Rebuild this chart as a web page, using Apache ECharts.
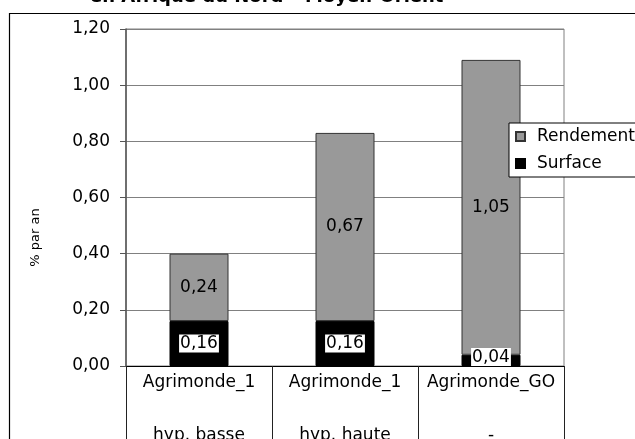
<!DOCTYPE html>
<html>
<head>
<meta charset="utf-8">
<script src="https://cdn.jsdelivr.net/npm/echarts@6/dist/echarts.min.js"></script>
<style>
  html, body { margin: 0; padding: 0; background: #fff; }
  #chart { width: 635px; height: 439px; }
</style>
</head>
<body>
<div id="chart"></div>
<script>
// Scenario labels (two levels) and the stacked contributions, in % per year
const scenarioNames = ['Agrimonde_1', 'Agrimonde_1', 'Agrimonde_GO'];
const scenarioVariants = ['hyp. basse', 'hyp. haute', '-'];
const surface = [0.16, 0.16, 0.04];
const rendement = [0.24, 0.67, 1.05];
const yTicks = [0, 0.2, 0.4, 0.6, 0.8, 1.0, 1.2];

const FONT = 'DejaVu Sans';
const fmt = v => v.toFixed(2).replace('.', ',');

const categories = scenarioNames.map((n, i) => n + '\n' + scenarioVariants[i]);

const chart = echarts.init(document.getElementById('chart'));

chart.setOption({
  animation: false,
  backgroundColor: '#ffffff',
  textStyle: { fontFamily: FONT },
  title: {
    text: 'en Afrique du Nord – Moyen-Orient',
    left: 90,
    top: -12,
    padding: 0,
    textStyle: { fontFamily: FONT, fontSize: 18, fontWeight: 'bold', color: '#000' }
  },
  graphic: [{
    type: 'rect',
    shape: { x: 9.5, y: 13.5, width: 700, height: 500 },
    style: { fill: 'none', stroke: '#000', lineWidth: 1.2 },
    silent: true,
    z: -10
  }],
  legend: {
    data: ['Rendement', 'Surface'],
    orient: 'vertical',
    left: 509,
    top: 123,
    padding: [5, 8, 5, 6],
    itemWidth: 9,
    itemHeight: 9,
    itemGap: 10,
    icon: 'rect',
    backgroundColor: '#fff',
    borderColor: '#000',
    borderWidth: 1,
    textStyle: { fontFamily: FONT, fontSize: 17, color: '#000', padding: [0, 0, 0, 7] }
  },
  grid: {
    left: 126, right: 71, top: 29, bottom: 73,
    outerBoundsMode: 'none',
    containLabel: false,
    show: true, borderColor: '#808080', borderWidth: 1, backgroundColor: 'transparent'
  },
  xAxis: {
    type: 'category',
    data: categories,
    boundaryGap: true,
    axisLine: { lineStyle: { color: '#000', width: 1 } },
    axisTick: { show: true, length: 80, lineStyle: { color: '#222' } },
    axisLabel: {
      interval: 0,
      margin: 7,
      formatter: (v) => {
        const [a, b] = v.split('\n');
        return '{a|' + a + '}\n{b|' + b + '}';
      },
      rich: {
        a: { fontFamily: FONT, fontSize: 17, color: '#000', lineHeight: 20 },
        b: { fontFamily: FONT, fontSize: 17, color: '#000', lineHeight: 86 }
      }
    }
  },
  yAxis: {
    type: 'value',
    min: yTicks[0],
    max: yTicks[yTicks.length - 1],
    interval: 0.2,
    name: '% par an',
    nameLocation: 'middle',
    nameGap: 84,
    nameTextStyle: { fontFamily: FONT, fontSize: 13, color: '#000', padding: [0, 80, 0, 0] },
    axisLine: { show: true, lineStyle: { color: '#555', width: 1.5 } },
    axisTick: { show: true, length: 6, lineStyle: { color: '#555' } },
    splitLine: { lineStyle: { color: '#808080', width: 1 } },
    axisLabel: {
      margin: 16,
      fontFamily: FONT, fontSize: 17, color: '#000',
      formatter: v => fmt(v)
    }
  },
  series: [
    {
      name: 'Surface',
      type: 'bar',
      stack: 'total',
      barWidth: 59,
      itemStyle: { color: '#000', borderColor: '#000', borderWidth: 1 },
      data: surface.map(v => ({
        value: v,
        label: v < 0.1 ? { position: 'insideBottom', distance: 0 } : undefined
      })),
      label: {
        show: true,
        position: 'inside',
        formatter: p => fmt(p.value),
        fontFamily: FONT, fontSize: 17, color: '#000',
        backgroundColor: '#fff',
        padding: [1, 1, 0, 1]
      }
    },
    {
      name: 'Rendement',
      type: 'bar',
      stack: 'total',
      barWidth: 59,
      itemStyle: { color: '#999999', borderColor: '#333', borderWidth: 1 },
      data: rendement,
      label: {
        show: true,
        position: 'inside',
        formatter: p => fmt(p.value),
        fontFamily: FONT, fontSize: 17, color: '#000'
      }
    }
  ]
});
</script>
</body>
</html>
